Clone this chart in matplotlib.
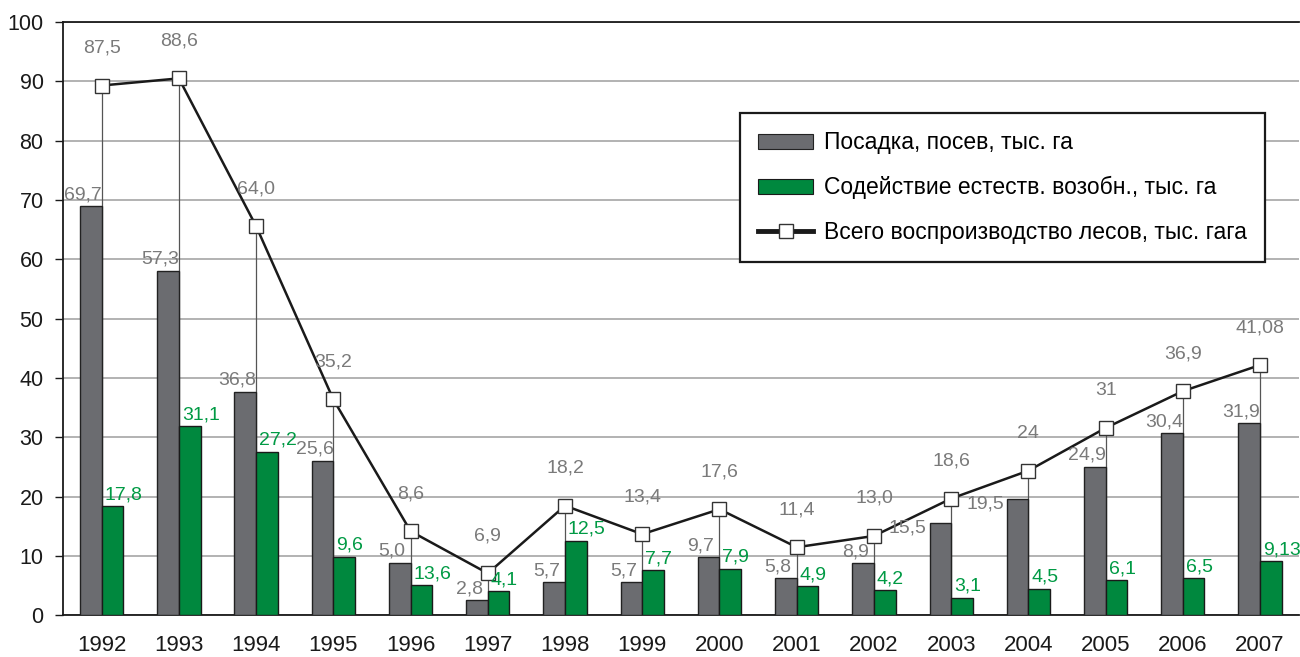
import numpy as np
import matplotlib
matplotlib.use("Agg")
import matplotlib.pyplot as plt
from matplotlib.patches import Patch
from matplotlib.lines import Line2D

plt.rcParams["font.family"] = ["Liberation Sans", "DejaVu Sans"]

# data
years = ["1992", "1993", "1994", "1995", "1996", "1997", "1998", "1999",
         "2000", "2001", "2002", "2003", "2004", "2005", "2006", "2007"]
planting = [69.0, 58.1, 37.7, 26.1, 8.9, 2.6, 5.6, 5.6,
            9.8, 6.3, 8.8, 15.6, 19.7, 25.1, 30.7, 32.4]
assist = [18.4, 31.9, 27.6, 9.9, 5.1, 4.1, 12.6, 7.6,
          7.9, 5.0, 4.3, 3.0, 4.5, 6.0, 6.3, 9.1]
total = [89.3, 90.5, 65.6, 36.4, 14.2, 7.1, 18.5, 13.7,
         17.9, 11.5, 13.4, 19.7, 24.4, 31.6, 37.8, 42.2]

# label texts as printed on the chart
planting_lbl = ["69,7", "57,3", "36,8", "25,6", "5,0", "2,8", "5,7", "5,7",
                "9,7", "5,8", "8,9", "15,5", "19,5", "24,9", "30,4", "31,9"]
assist_lbl = ["17,8", "31,1", "27,2", "9,6", "13,6", "4,1", "12,5", "7,7",
              "7,9", "4,9", "4,2", "3,1", "4,5", "6,1", "6,5", "9,13"]
total_lbl = ["87,5", "88,6", "64,0", "35,2", "8,6", "6,9", "18,2", "13,4",
             "17,6", "11,4", "13,0", "18,6", "24", "31", "36,9", "41,08"]

gray = "#6b6c70"
green = "#00883e"
lbl_gray = "#7a7a7a"
lbl_green = "#009a44"

fig = plt.figure(figsize=(13, 6.57), dpi=100)
ax = fig.add_axes([0.0485, 0.0632, 0.9505, 0.9033])

x = np.arange(len(years))
w = 0.28

# drop lines from the markers, behind the bars
ax.vlines(x, 0, total, color="#555555", lw=0.9, zorder=2)

ax.bar(x - w / 2, planting, w, color=gray, edgecolor="#222222", lw=1.0, zorder=3)
ax.bar(x + w / 2, assist, w, color=green, edgecolor="#1a1a1a", lw=1.0, zorder=3)

ax.plot(x, total, color="#1a1a1a", lw=1.8, marker="s", markersize=10.5,
        markerfacecolor="white", markeredgecolor="#333333", markeredgewidth=1.0,
        zorder=5)

# value labels
for i in range(len(years)):
    if i in (11, 12):
        # these two sit to the left of the bar
        ax.annotate(planting_lbl[i], (x[i] - w, planting[i]), xytext=(-2, -4),
                    textcoords="offset points", ha="right", va="center",
                    fontsize=14, color=lbl_gray, zorder=6)
    else:
        ax.annotate(planting_lbl[i], (x[i] - w + 0.04, planting[i]), xytext=(0, 2),
                    textcoords="offset points", ha="center", va="bottom",
                    fontsize=14, color=lbl_gray, zorder=6)
    ax.annotate(assist_lbl[i], (x[i] + 0.02, assist[i]), xytext=(1, 2),
                textcoords="offset points", ha="left", va="bottom",
                fontsize=14, color=lbl_green, zorder=6)
    ax.annotate(total_lbl[i], (x[i], total[i]), xytext=(0, 27),
                textcoords="offset points", ha="center", va="center",
                fontsize=14, color=lbl_gray, zorder=6)

ax.set_xlim(-0.5, 15.5)
ax.set_ylim(0, 100)
ax.set_yticks(range(0, 101, 10))
ax.set_xticks(x)
ax.set_xticklabels(years)
ax.tick_params(axis="x", length=0, pad=14, labelsize=16, colors="#1a1a1a")
ax.tick_params(axis="y", length=6, width=1, pad=8, labelsize=15.5, colors="#1a1a1a")

ax.yaxis.grid(True, color="#a6a6a6", lw=1.2, zorder=0)
ax.set_axisbelow(True)
for s in ("left", "bottom", "top"):
    ax.spines[s].set_color("#1a1a1a")
    ax.spines[s].set_linewidth(1.3)
ax.spines["right"].set_visible(False)

handles = [
    Patch(facecolor=gray, edgecolor="#222222", lw=0.8),
    Patch(facecolor=green, edgecolor="#1a1a1a", lw=0.8),
    Line2D([0], [0], color="#1a1a1a", lw=3.5, marker="s", markersize=10,
           markerfacecolor="white", markeredgecolor="#333333"),
]
labels = ["Посадка, посев, тыс. га",
          "Содействие естеств. возобн., тыс. га",
          "Всего воспроизводство лесов, тыс. гага"]
leg = ax.legend(handles, labels, loc="upper left",
                bbox_to_anchor=(740 / 1300, 1 - 113 / 657),
                bbox_transform=fig.transFigure, fontsize=16.5, frameon=True,
                fancybox=False, edgecolor="#1a1a1a", framealpha=1,
                handlelength=2.4, handleheight=0.65, handletextpad=0.45,
                labelspacing=0.95, borderpad=0.8, borderaxespad=0)
leg.get_frame().set_linewidth(1.6)
leg.set_zorder(10)

fig.savefig("out.png", dpi=100)
